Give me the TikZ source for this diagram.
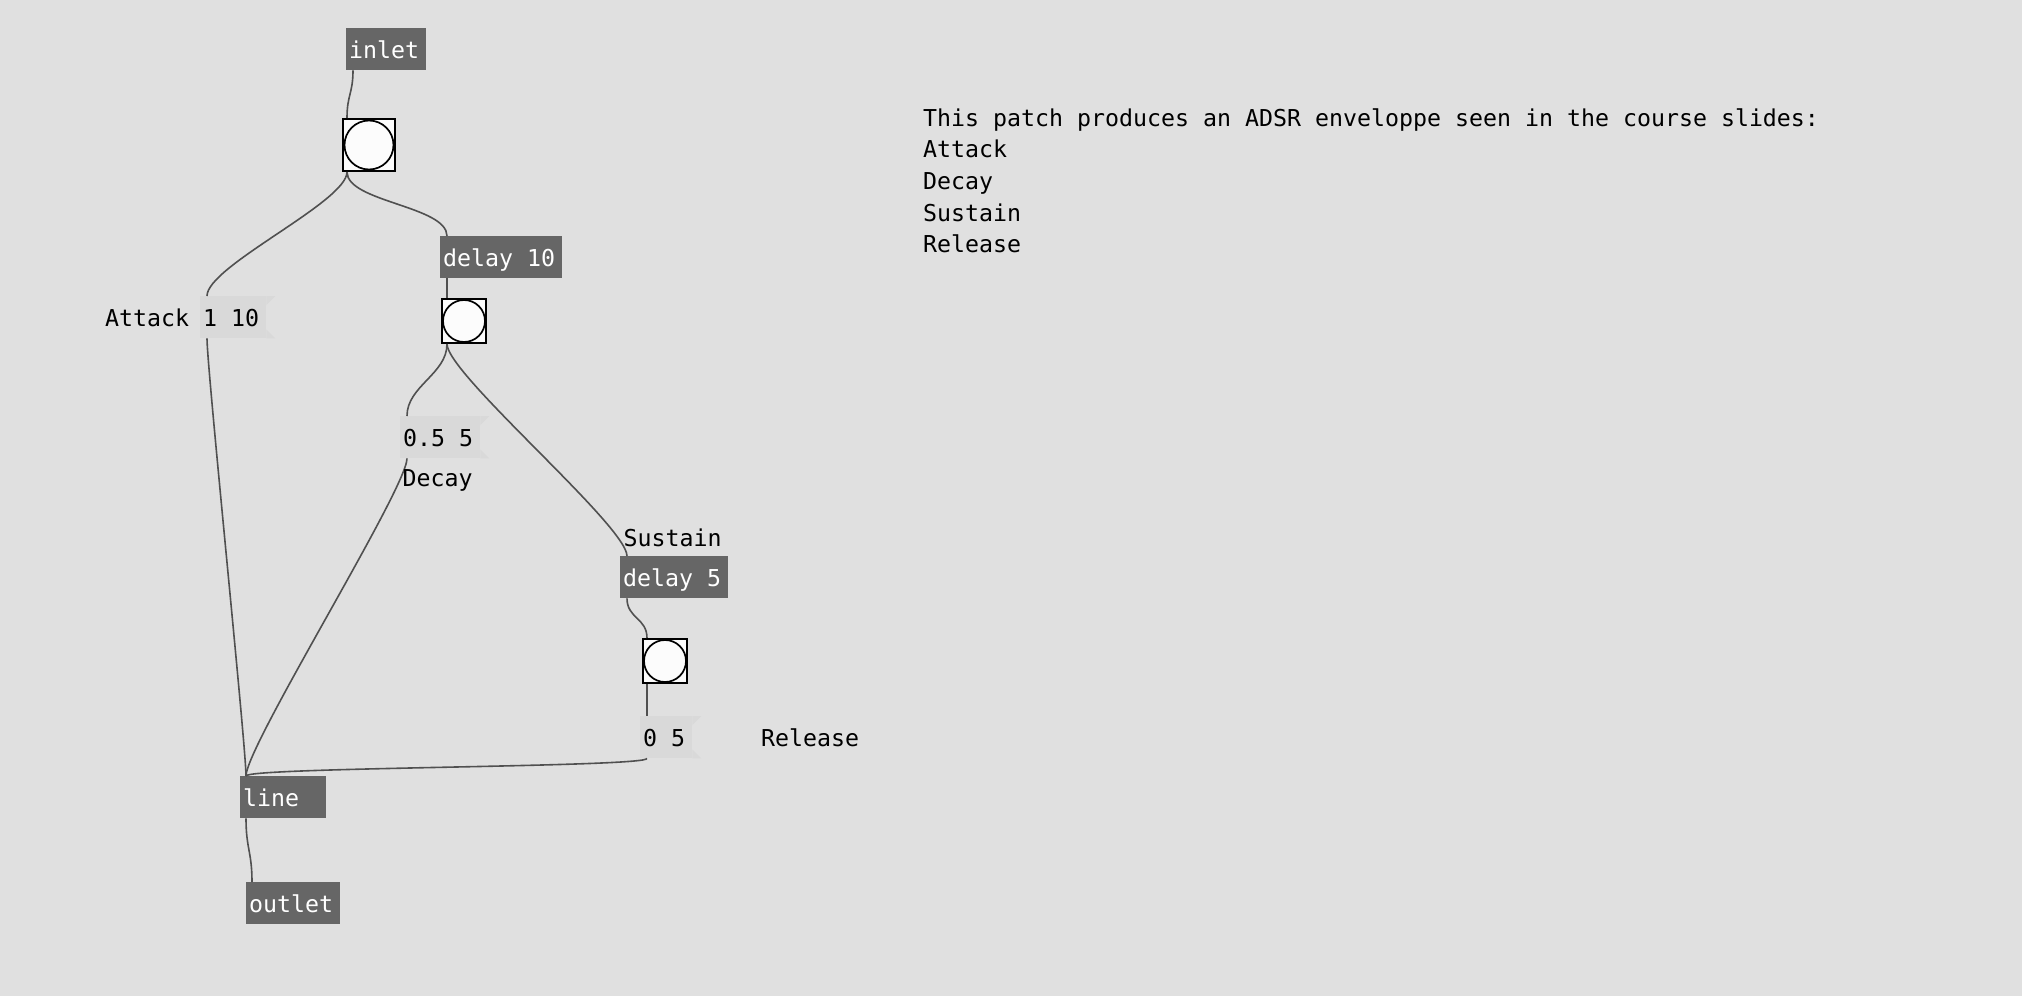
\documentclass[tikz,border=0pt]{standalone}
\usepackage{fontspec}
\setmonofont{DejaVu Sans Mono}

\definecolor{patchbg}{HTML}{E0E0E0}
\definecolor{objgray}{HTML}{666666}
\definecolor{msggray}{HTML}{D9D9D9}
\definecolor{cordgray}{HTML}{505050}
\definecolor{bangfill}{HTML}{FCFCFC}

\begin{document}
\begin{tikzpicture}[x=1pt,y=-1pt,
       font=\ttfamily\fontsize{23.25}{32}\selectfont,
       obj/.style={anchor=north west,fill=objgray,text=white,inner xsep=3pt,
         inner ysep=0pt,text height=30pt,text depth=12pt,align=flush left},
       msg/.style={anchor=north west,fill=msggray,inner xsep=3pt,
         inner ysep=0pt,text height=30pt,text depth=12pt,align=flush left},
       bng/.style={anchor=north west,draw=black,fill=bangfill,
         line width=2pt,inner sep=0pt},
       cmt/.style={anchor=base west,inner sep=0pt},
       cord/.style={draw=cordgray,line width=1.6pt}]
       \fill[patchbg] (0,0) rectangle (2022,996);
       \useasboundingbox (0,0) rectangle (2022,996);
       % objects
       \node[obj,text width=74pt]  (inlet)   at (346, 28) {inlet};
       \node[obj,text width=116pt] (delayA)  at (440,236) {delay 10};
       \node[obj,text width=102pt] (delayB)  at (620,556) {delay 5};
       \node[obj,text width=80pt]  (line)    at (240,776) {line};
       \node[obj,text width=88pt]  (outlet)  at (246,882) {outlet};
       % bangs
       \node[bng,minimum size=52pt] (bangA) at (342,118) {};
       \node[bng,minimum size=44pt] (bangB) at (441,298) {};
       \node[bng,minimum size=44pt] (bangC) at (642,638) {};
       \draw[line width=1.7pt] (bangA.center) circle (24.5);
       \draw[line width=1.7pt] (bangB.center) circle (21);
       \draw[line width=1.7pt] (bangC.center) circle (21);
       % messages
       \node[msg,text width=60pt] (msgA) at (200,296) {1 10};
       \node[msg,text width=74pt] (msgD) at (400,416) {0.5 5};
       \node[msg,text width=46pt] (msgR) at (640,716) {0 5};
       \fill[msggray] (msgA.north east) -- ++(9,0) -- ++(-9,9) -- cycle;
       \fill[msggray] (msgA.south east) -- ++(9,0) -- ++(-9,-9) -- cycle;
       \fill[msggray] (msgD.north east) -- ++(9,0) -- ++(-9,9) -- cycle;
       \fill[msggray] (msgD.south east) -- ++(9,0) -- ++(-9,-9) -- cycle;
       \fill[msggray] (msgR.north east) -- ++(9,0) -- ++(-9,9) -- cycle;
       \fill[msggray] (msgR.south east) -- ++(9,0) -- ++(-9,-9) -- cycle;
       % cords
       \draw[cord] ([xshift=7pt]inlet.south west) .. controls +(0,23) and +(0,-23) .. ([xshift=5pt]bangA.north west);
       \draw[cord] ([xshift=5pt]bangA.south west) .. controls +(0,30) and +(0,-30) .. ([xshift=7pt]msgA.north west);
       \draw[cord] ([xshift=5pt]bangA.south west) .. controls +(0,30) and +(0,-30) .. ([xshift=7pt]delayA.north west);
       \draw[cord] ([xshift=7pt]delayA.south west) .. controls +(0,10) and +(0,-10) .. ([xshift=6pt]bangB.north west);
       \draw[cord] ([xshift=6pt]bangB.south west) .. controls +(0,30) and +(0,-30) .. ([xshift=7pt]msgD.north west);
       \draw[cord] ([xshift=6pt]bangB.south west) .. controls +(0,30) and +(0,-30) .. ([xshift=7pt]delayB.north west);
       \draw[cord] ([xshift=7pt]delayB.south west) .. controls +(0,20) and +(0,-20) .. ([xshift=5pt]bangC.north west);
       \draw[cord] ([xshift=5pt]bangC.south west) .. controls +(0,16) and +(0,-16) .. ([xshift=7pt]msgR.north west);
       \draw[cord] ([xshift=7pt]msgA.south west) .. controls +(0,30) and +(0,-30) .. ([xshift=6pt]line.north west);
       \draw[cord] ([xshift=7pt]msgD.south west) .. controls +(0,30) and +(0,-30) .. ([xshift=6pt]line.north west);
       \draw[cord] ([xshift=7pt]msgR.south west) .. controls +(0,9) and +(0,-9) .. ([xshift=6pt]line.north west);
       \draw[cord] ([xshift=6pt]line.south west) .. controls +(0,30) and +(0,-30) .. ([xshift=6pt]outlet.north west);
       % comments
       \node[cmt] (attack)  at (105,326) {Attack};
       \node[cmt] (decay)   at (402.5,486) {Decay};
       \node[cmt] (sustain) at (623.5,546) {Sustain};
       \node[cmt] (release) at (761,746) {Release};
       \node[cmt] (note0) at (923,126) {This patch produces an ADSR enveloppe seen in the course slides:};
       \node[cmt] (note1) at (923,157.7) {Attack};
       \node[cmt] (note2) at (923,189.4) {Decay};
       \node[cmt] (note3) at (923,221.1) {Sustain};
       \node[cmt] (note4) at (923,252.8) {Release};
\end{tikzpicture}
\end{document}
